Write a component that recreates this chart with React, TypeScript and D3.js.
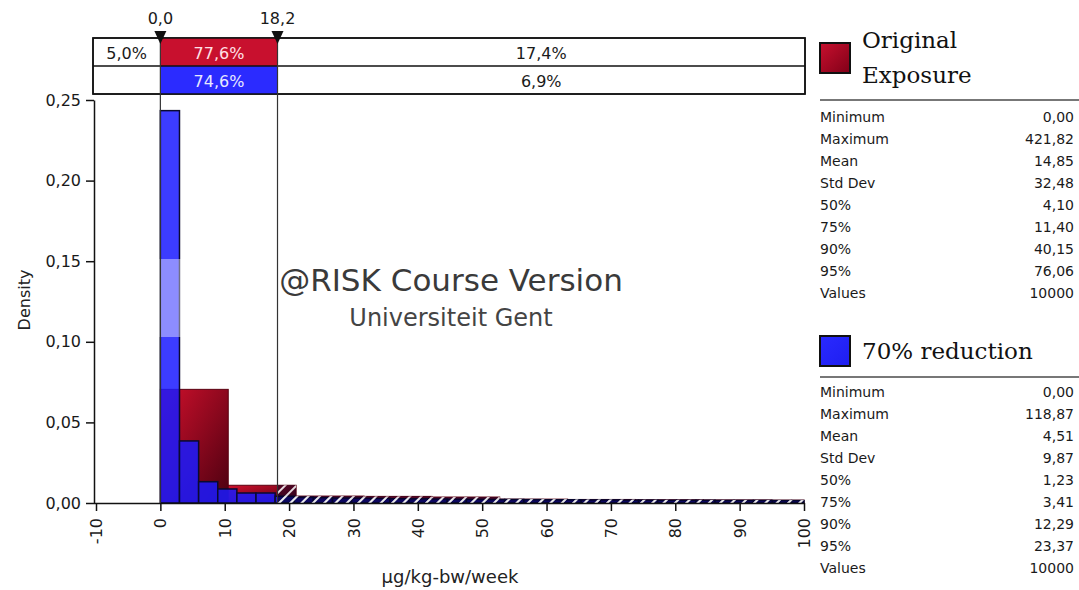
import React from "react";
import * as d3 from "d3";

// ---------- data ----------
const redBinWidth = 10.5455; // 421.82 / 40
const blueBinWidth = 2.9718; // 118.87 / 40
const redDensity = [0.0705, 0.011, 0.0043, 0.0041, 0.0037, 0.0024, 0.0022, 0.002, 0.0019, 0.0018];
const blueDensity = [
  0.2434, 0.0385, 0.0132, 0.0087, 0.0062, 0.0062,
  0.0042, 0.0036, 0.0033, 0.0031, 0.003, 0.0029, 0.0027, 0.0026, 0.0025, 0.0024,
  0.0023, 0.0022, 0.0022, 0.0021, 0.002, 0.002, 0.0019, 0.0019, 0.0018, 0.0018,
  0.0017, 0.0017, 0.0017, 0.0016, 0.0016, 0.0016, 0.0015, 0.0015,
];
const xTicks = [-10, 0, 10, 20, 30, 40, 50, 60, 70, 80, 90, 100];
const yTicks = [0, 0.05, 0.1, 0.15, 0.2, 0.25];
const delimiters = [0, 18.2];
const redPct = ["5,0%", "77,6%", "17,4%"];
const bluePct = ["", "74,6%", "6,9%"];
const statLabels = ["Minimum", "Maximum", "Mean", "Std Dev", "50%", "75%", "90%", "95%", "Values"];
const redStats = ["0,00", "421,82", "14,85", "32,48", "4,10", "11,40", "40,15", "76,06", "10000"];
const blueStats = ["0,00", "118,87", "4,51", "9,87", "1,23", "3,41", "12,29", "23,37", "10000"];

const sans = "'DejaVu Sans', Verdana, sans-serif";
const serif = "'DejaVu Serif', serif";

const locale = d3.formatLocale({ decimal: ",", thousands: ".", grouping: [3], currency: ["", ""] });
const fmt2 = locale.format(".2f");
const fmt1 = locale.format(".1f");

export default function App() {
  const W = 1079, H = 590;
  const x = d3.scaleLinear().domain([-10, 100]).range([96, 804]);
  const y = d3.scaleLinear().domain([0, 0.25]).range([503, 100]);
  const xAxisRef = React.useRef<SVGGElement>(null);
  const yAxisRef = React.useRef<SVGGElement>(null);

  React.useEffect(() => {
    const gx = d3.select(xAxisRef.current!);
    gx.call(d3.axisBottom(x).tickValues(xTicks).tickSize(8).tickSizeOuter(0).tickFormat((d: any) => String(d)));
    gx.select(".domain").attr("d", "M94,0.5H805").attr("stroke", "#111").attr("stroke-width", 1.5);
    gx.selectAll(".tick line").attr("stroke", "#111").attr("stroke-width", 1.5);
    gx.selectAll(".tick text")
      .attr("transform", "rotate(-90)")
      .attr("x", -15)
      .attr("y", 0)
      .attr("dy", "0.35em")
      .attr("text-anchor", "end")
      .attr("font-size", 16)
      .attr("font-family", sans)
      .attr("fill", "#1a1a1a");
    const gy = d3.select(yAxisRef.current!);
    gy.call(d3.axisLeft(y).tickValues(yTicks).tickSize(8).tickSizeOuter(0).tickFormat((d: any) => fmt2(d)));
    gy.select(".domain").attr("stroke", "#111").attr("stroke-width", 1.5);
    gy.selectAll(".tick line").attr("stroke", "#111").attr("stroke-width", 1.5);
    gy.selectAll(".tick text").attr("x", -13).attr("font-size", 16).attr("font-family", sans).attr("fill", "#1a1a1a");
  }, []);

  const xMin = -10, xMax = 100;
  const clipX = (v: number) => Math.max(xMin, Math.min(xMax, v));
  const redBars = redDensity.map((d, i) => ({ x0: i * redBinWidth, x1: clipX((i + 1) * redBinWidth), d }));
  const blueBars = blueDensity.map((d, i) => ({ x0: i * blueBinWidth, x1: clipX((i + 1) * blueBinWidth), d }));
  const hi = delimiters[1];
  const hatchParts = [...redBars, ...blueBars]
    .filter((b) => b.x1 > hi)
    .map((b) => ({ x0: Math.max(b.x0, hi), x1: b.x1, d: b.d }));

  const boxL = 93, boxR = 805, rowT = 38, rowM = 66, rowB = 94;
  const xd0 = x(delimiters[0]), xd1 = x(delimiters[1]);
  const cellCenters = [(boxL + xd0) / 2, (xd0 + xd1) / 2, (xd1 + boxR) / 2];

  const legend = (yTop: number, titleLines: string[], titleY: number[], lineY: number, stats: string[], rowY0: number, gradId: string) => (
    <g>
      <rect x={820} y={yTop} width={30} height={30} fill={`url(#${gradId})`} stroke="#111" strokeWidth={2} />
      {titleLines.map((t, i) => (
        <text key={i} x={862} y={titleY[i]} fontFamily={serif} fontSize={23} fill="#111">{t}</text>
      ))}
      <line x1={820} x2={1079} y1={lineY} y2={lineY} stroke="#777" strokeWidth={2} />
      {statLabels.map((s, i) => (
        <g key={s}>
          <text x={820} y={rowY0 + i * 22} dy="0.35em" fontFamily={sans} fontSize={14} fill="#1a1a1a">{s}</text>
          <text x={1074} y={rowY0 + i * 22} dy="0.35em" textAnchor="end" fontFamily={sans} fontSize={14} fill="#1a1a1a">{stats[i]}</text>
        </g>
      ))}
    </g>
  );

  return (
    <svg width={W} height={H} style={{ position: "absolute", left: 0, top: 0, background: "#fff" }}>
      <defs>
        <linearGradient id="redGrad" x1="0" y1="0" x2="1" y2="1">
          <stop offset="0" stopColor="#d0102c" />
          <stop offset="1" stopColor="#4a0010" />
        </linearGradient>
        <linearGradient id="redLeg" x1="0" y1="0" x2="1" y2="1">
          <stop offset="0" stopColor="#c8102e" />
          <stop offset="1" stopColor="#800018" />
        </linearGradient>
        <linearGradient id="blueLeg" x1="0" y1="0" x2="1" y2="1">
          <stop offset="0" stopColor="#2a2aff" />
          <stop offset="1" stopColor="#1e1ef0" />
        </linearGradient>
        <pattern id="hatch" width="8" height="8" patternUnits="userSpaceOnUse" patternTransform="rotate(45)">
          <rect x="0" y="0" width="8" height="8" fill="#000028" opacity="0.45" />
          <rect x="0" y="0" width="2" height="8" fill="#fff" opacity="0.85" />
        </pattern>
      </defs>

      {/* red bars */}
      {redBars.map((b, i) => (
        <rect key={"r" + i} x={x(b.x0)} y={y(b.d)} width={x(b.x1) - x(b.x0)} height={y(0) - y(b.d)}
          fill="url(#redGrad)" stroke="#5a0010" strokeWidth={1} />
      ))}
      {/* blue bars */}
      {blueBars.map((b, i) => (
        <rect key={"b" + i} x={x(b.x0)} y={y(b.d)} width={x(b.x1) - x(b.x0)} height={y(0) - y(b.d)}
          fill="#1a1aff" fillOpacity={0.85} stroke="#0a0a30" strokeWidth={1.5} />
      ))}
      {/* hatching outside delimiters */}
      {hatchParts.map((b, i) => (
        <rect key={"h" + i} x={x(b.x0)} y={y(b.d)} width={x(b.x1) - x(b.x0)} height={y(0) - y(b.d)} fill="url(#hatch)" />
      ))}

      {/* watermark band */}
      <rect x={96} y={259} width={708} height={78} fill="#fff" opacity={0.42} />
      <text x={451} y={280} dy="0.35em" textAnchor="middle" fontFamily={sans} fontSize={31} fill="#3a3a3a">@RISK Course Version</text>
      <text x={451} y={318} dy="0.35em" textAnchor="middle" fontFamily={sans} fontSize={24} fill="#444">Universiteit Gent</text>

      {/* axes */}
      <g ref={xAxisRef} transform={`translate(0,503)`} />
      <g ref={yAxisRef} transform={`translate(94,0)`} />
      <text transform="translate(24,300) rotate(-90)" textAnchor="middle" dy="0.35em" fontFamily={sans} fontSize={16} fill="#222">Density</text>
      <text x={450} y={577} textAnchor="middle" dy="0.35em" fontFamily={sans} fontSize={18} fill="#222">µg/kg-bw/week</text>

      {/* delimiter box */}
      <rect x={boxL} y={rowT} width={boxR - boxL} height={rowB - rowT} fill="#fff" stroke="#111" strokeWidth={1.5} />
      <rect x={xd0} y={rowT} width={xd1 - xd0} height={rowM - rowT} fill="#c8102e" />
      <rect x={xd0} y={rowM} width={xd1 - xd0} height={rowB - rowM} fill="#2b2bff" />
      <line x1={boxL} x2={boxR} y1={rowM} y2={rowM} stroke="#111" strokeWidth={1.5} />
      <rect x={boxL} y={rowT} width={boxR - boxL} height={rowB - rowT} fill="none" stroke="#111" strokeWidth={1.5} />
      {redPct.map((t, i) => (
        <text key={"rp" + i} x={cellCenters[i]} y={(rowT + rowM) / 2 + 1} dy="0.35em" textAnchor="middle" fontFamily={sans} fontSize={16}
          fill={i === 1 ? "#ffe0e6" : "#1a1a1a"}>{t}</text>
      ))}
      {bluePct.map((t, i) => (
        <text key={"bp" + i} x={cellCenters[i]} y={(rowM + rowB) / 2 + 1} dy="0.35em" textAnchor="middle" fontFamily={sans} fontSize={16}
          fill={i === 1 ? "#e8e8ff" : "#1a1a1a"}>{t}</text>
      ))}
      {delimiters.map((d, i) => (
        <g key={"d" + i}>
          <line x1={x(d)} x2={x(d)} y1={38} y2={503} stroke="#333" strokeWidth={1.2} />
          <path d={`M${x(d) - 6},31 L${x(d) + 6},31 L${x(d)},44 Z`} fill="#111" />
          <text x={x(d)} y={18} dy="0.35em" textAnchor="middle" fontFamily={sans} fontSize={16} fill="#1a1a1a">{fmt1(d)}</text>
        </g>
      ))}

      {/* legends */}
      {legend(43, ["Original", "Exposure"], [48, 83], 100, redStats, 117, "redLeg")}
      {legend(336, ["70% reduction"], [359], 377, blueStats, 392, "blueLeg")}
    </svg>
  );
}
